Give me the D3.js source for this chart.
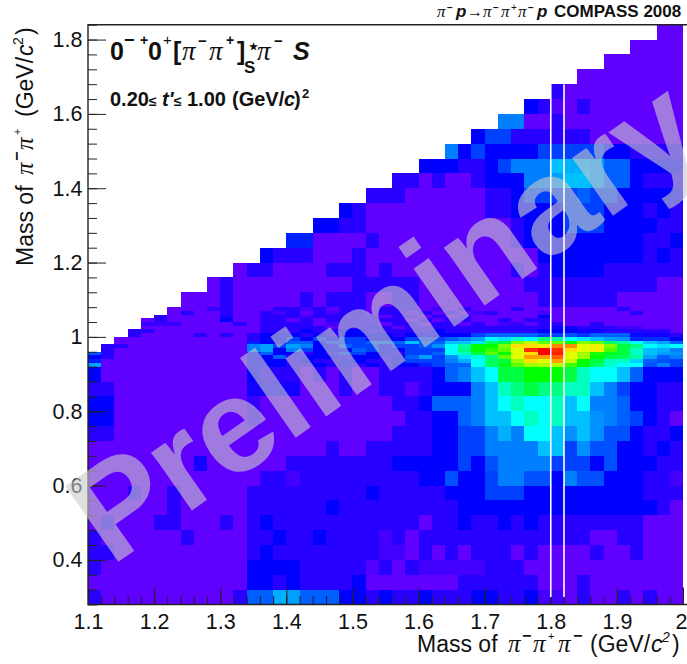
<!DOCTYPE html>
<html>
<head>
<meta charset="utf-8">
<script src="https://cdn.jsdelivr.net/npm/d3@7"></script>
<style>
  body { margin: 0; background: #fff; }
  svg { display: block; }
  text { font-family: "Liberation Sans", Arial, sans-serif; fill: #111; }
  .axis path { display: none; }
  .axis line { stroke: #222; stroke-width: 1; }
  .axis text { font-size: 21.5px; font-family: "Liberation Sans", Arial, sans-serif; fill: #111; }
</style>
</head>
<body>
<svg width="687" height="664"></svg>
<script>
// bin layout of the 2d histogram
const massX0 = 1.1, massXStep = 0.02, nCols = 45;
const lowEdge = 0.28, coarseStep = 0.04, fineStart = 0.92, fineStep = 0.01, highStart = 1.08;

// colour level per cell, rows run from low mass up; every row is right aligned
// 0.28 - 0.92 GeV, 0.04 wide
const lowRows = [
  [2,0,0,0,0,0,0,0,0,0,0,2,5,5,7.5,7,5,5,5,3,3,2,3,2,2,3,2,2,2,3,3,2,2,3,1,1,0,2,0,0,2,0,2,0,0],
  [0,0,0,0,0,0,0,0,0,0,0,0,3,3,2,3,2,2,2,2,3,0,0,0,0,0,0,0,2,2,2,2,2,2,0,0,0,2,0,0,0,0,0,0,0],
  [2,0,0,0,0,0,0,0,0,0,0,0,3,3,3,3,2,2,2,2,2,0.5,2,0,2,1,1,1,1,1,2,2,2,0,0,0,0,0,0,0,0,0,0,0,0],
  [2,2,0,0,0,0,0,0,0,0,0,0,2,3,2,2,2,2,2,2,2,2,1,1,0,2,0,2,0,2,2,2,0,2,0,0,0,0,2,0,0,2,0,0,0],
  [2,0,0,0,0,0,0,2,0,0,0,0,2,2,3,2,2,3,2,2,2,2,1,2,0,2,2,2,2,2,2,2,2,2,2,2,2,2,0,0,2,2,0,0,0],
  [0,2,0,0,0,2,2,0,0,0,2,0,2,3,2,2,2,2,2,2,2,2,2,2,2,0,2,2,3,2,2,3,2,3,2,2,2,2,2,2,2,2,0,0,0],
  [0,0,0,0,0,0,2,0,0,0,0,0,2,2,2,2,2,2,3,2,2,2,2,2,2,2,2,2,3,3,3,3,3,3,3,3,3,3,3,3,3,3,3,2,0],
  [0,0,0,2,0,0,2,0,0,0,0,0,2,2,2,2,2,2,2,2,2,3,2,2,2,2,2,3,3,3,4,4,4,3,3,3,3,3,3,3,3,3,2,2,2],
  [0,0,0,0,0,0,0,0,0,0,0,0,0,2,2,1,2,2,2,2,2,2,2,2,2,3,3,4.5,3,3,4,6,6,4.5,4.5,3,6,4.5,4.5,3,3,3,2,2,1],
  [0,0,0,0,0,0,0,0,2.5,0,0,0,0,0,0,2,2,2,2,2,2,2,2,3,3,3,3,3,4,3,4.5,6,6,6,6,4,4,4,3,4.5,3,3,3,2,2],
  [0,0,0,0,0,0,0,0,0,0,0,0,0,0,0,0,0,0,2,0,0,2,2,2,2,2,3,3,4,4,6,6,6,6,8,8,4,6.5,4.5,4.5,3,3,2,3,2],
  [2,2,0,0,0,0,0,0,0,0,0,0,0,0,0,0,0,0,0,0,0,0,0,2,2,2,3,3,4,4,6,7.5,6,9,9,8,6.5,8,6.5,4.5,4.5,3,2,2,3],
  [3,3,0,0,0,0,0,0,0,0,0,0,1.5,0,0,0,0,0,0,0,0,0,0,0,2,2,3,3,5,6,8,8,9,10,9,10,8,8,6.5,6,5,4,3,2,0],
  [3,3,0,0,0,0,0,0,0,0,0,0,1.5,0,0,0,0,0,0,0,0,0,0,2,2,3,5,5,5,6,8,9,10,9,9,10,8,9,6,6,5,3,3,2,2],
  [2,2,0,0,0,0,0,0,0,0,0,0,2.5,2.5,2.5,2.5,0,0,0,2,0,0,2,2,0.5,2,3,3,3,6,8,10,11,12,11,11,10,10,8,6,4,3,3,2,2],
  [3,0,0,0,0,0,0,0,0,0,0,0,3,2,2,2,0,2,0,2,0,0,2,2,2,2,3,5,6,8,9,12,12,13,13,13,12,10,9,9,8,5,3,3,3]
];
// 0.92 - 1.08 GeV, 0.01 wide
const fineRows = [
  [7,0,0,0,0,0,0,0,0,0,0,0,3,3,3,2,2,3,2,3,2,3,2,3,3,3.5,4,5,5,9,11.5,12.5,14,15,15.3,15.3,13.7,13,11.5,9.8,9,9,4.5,6,4],
  [3.5,0,0,0,0,0,0,0,0,0,0,0,3,3,3,2,3,2,2,3,3,2,2,3,4,4,4,6,7.5,9,11.5,12,14.8,17,16,18,15.5,13,12,10,10,8.3,5,4.5,4],
  [3,2,0,0,0,0,0,0,0,0,0,0,3,3,5,2,3,3,3,2,3,3,2,3,5,7,4,6.5,8.5,9.5,11,14,16,18,18,18.7,16,15,13,12,11.5,10.5,7,5,6],
  [4.5,2,0,0,0,0,0,0,0,0,0,0,3,5,3,3,2,3,2,4,4,3,3,2,4,4,5,9,10,12,14,13,16,17,20,19.5,16,15,13.3,12.5,12,10,8,7,6.5],
  [2,0,0,0,0,0,0,0,0,0,0,6,7,3,6,4,3,3,3,5,4,3,3,4,4,4,9,11,13,13.5,14,16,19.3,20,19.3,17,16,16.5,13.8,12,10,8,7.5,6],
  [2,2,0,0,0,0,0,0,0,0,0,6,7,4,7,6,3,3,5,4,4,3,4,4,5,6.5,9,10.5,13,13,14.5,17,17,16.5,18.3,18.2,16,16.5,14.5,12,11,9,8.5,9],
  [0,0,0,0,0,0,0,0,0,0,3.5,3,3,5,5,3,4,4,4,5,5,5,8,5,5,8,8,8.5,11.5,12,14.5,15.5,14,14,13,14.5,14,11.5,10.5,9,8,7,5],
  [0,0,0,0,0,0,0,0,0,0,2,3,3,4,3,4,3,4,4,3,3,3,4,4,4,5,6,7,9,8.6,9.8,9,11,10.5,9,8.6,8,7,6.5,3.5,3.7,3.7,3],
  [2,0,0,0,0,2,0,2,0,2,3,3,3,2,3,2,3,3,3,3,2,3,3,3,3,3,4,5,5,5,5,4,4,4.5,3.8,5,5,5,3.2,2.5,2.5,2],
  [2,2,0,0,0,0,0,0,0,0,2,2,2,3,2,2,3,3,2,2,2,2,2,3,2,2,2,2,2,2,2,3,3,3,2.6,2.6,2,2,2,2,2,0],
  [0,0,0,0,0,0,0,0,0,2,2,2,2,2,0,2,2,3,2,0,2,2,2,2,2,2,2,2,2,2,2,2.6,2.6,2,2,2,1,1,0,0,0],
  [1.5,1.5,1.5,0,0,0,0,2,0,2,2,2,2,0,1,2,2,2,0,2,2,0,2,2,0,2,0,1,1.5,0,2,2,0,0,2,0,0,0,0,0,0],
  [0,2,0,0,0,0,3,0,0,2,2,0,2,0,2,2,2,2,2,2,0,2,0,2,2,0,0,2,0,2,2,0,0,0,0,0,0,0,0,0,0],
  [2,0,0,0,0,2.3,0,0,2,2,2,1,2,2,2,2,2,0,2,2,0,2,0,2,0,0,0,0,0,3,0,0,0,0,0,0,0,0,0,0],
  [0,2,0,0,2,0,0,2,1,2,0,2,1,2,2,0,2,2,0,2,0,2,0,1,2,0,0,0,1,0,0,0,0,0,0,2,0,0,0],
  [0,0,0,1.5,2,0,0,0,2,2,1,2,0,2,2,0,2,2,2,0,1,0,2,0,0,0,2,0,0,0,0,0,0,0,2,0,0,0,0]
];
// 1.08 - 1.84 GeV, 0.04 wide
const highRows = [
  [0,0,0,2,0,0,0,0,0,2,0,2,2,2,0,0,2,2,0,0,0,0,0,0,0,0,0,2,2,2,2,2,2,0,0,0,0,0],
  [0,2,0,0,0,0,0,0,0,0,0,2,2,2,2,2,0,0,0,0,0,0,0,0,2,2,2,2,2,2,2,2,2,2,0,0],
  [0,2,2,0,0,0,0,2,2,2,0,2,0,0,0,0,0,0,0,0,0,2,0,2,3,3,3,3,2,2,2,2,2,2],
  [3,2,2,2,0,0,0,2,0,0,0,0,0,0,0,0,0,0,0,0,0,3,3,3,3,3,3,3,3,2,3,2],
  [3.5,3.5,0,0,0,0,2,0,0,0,0,0,0,0,0,0,0,2,3,3,3,3,3,3,3,3,3,2,2,3],
  [3,3,2,2,0,0,0,0,0,0,0,0,0,0,0,2,3,3,3,4,4,4,3,3,3,3,2,2],
  [3,2,0,0,0,0,0,0,0,0,0,2,2,3,3,3,3,4,4,4,3,3,3,2,3,2],
  [2,2,2,0,0,0,0,0,0,2,2,3,4,4,4,4,5,4,4,3,3,3,3,3],
  [2,2,0,2,0,0,2,3,3,3,6,6,7,8,8,7,5,5,3,2,2,2],
  [3,3,3,2,2,3,4,6,6,6,8,7.5,7.5,7,5,5,3,3,3,3],
  [6,3,4,3,3,3,3,4,4,4,4,4,3,3,2,2,2,2],
  [3,4,4,2,2,2,2,2,2,0,0,0,0,0,0,0],
  [6,6,0,0,2,0,0,0,0,0,0,0,0,0],
  [3,2,0.5,0,2,0,0,0,0,0,0,0],
  [2,0,0,0,0,0,0,0,0,0],
  [0,0,0,0,0,0,0,0],
  [0,0,0,0,0,0],
  [0,0,0,0],
  [0,0]
];

const xTicks = [1.1, 1.2, 1.3, 1.4, 1.5, 1.6, 1.7, 1.8, 1.9, 2];
const yTicks = [0.4, 0.6, 0.8, 1, 1.2, 1.4, 1.6, 1.8];
const markerMasses = [1.8, 1.82];   // the selected bin
const markerRange = [0.3, 1.68];

// rainbow palette as the colour level reads it
const levelStops = [0, 1, 2, 3, 4, 6, 8, 9, 10, 11, 12, 13, 14, 15, 16, 17, 18, 19, 20];
const levelColors = ["#6000ff", "#4400ff", "#2800ff", "#0000ff", "#0040ff", "#0080ff", "#00c0ff", "#00ffff", "#00ffc0",
  "#00ff80", "#00ff40", "#00ff00", "#60ff00", "#a0ff00", "#e0ff00", "#ffe000", "#ffa000", "#ff4000", "#ff0000"];
const color = d3.scaleLinear().domain(levelStops).range(levelColors);

const svg = d3.select("svg");
const x = d3.scaleLinear().domain([1.1, 2]).range([88, 683]);
const y = d3.scaleLinear().domain([0.28, 1.84]).range([604.5, 24.7]);

// flatten rows into cells
const cells = [];
function addRows(rows, start, step) {
  rows.forEach((row, r) => {
    const first = nCols - row.length;
    row.forEach((v, i) => {
      const col = first + i;
      cells.push({
        x0: massX0 + col * massXStep, x1: massX0 + (col + 1) * massXStep,
        y0: start + r * step, y1: start + (r + 1) * step, v
      });
    });
  });
}
addRows(lowRows, lowEdge, coarseStep);
addRows(fineRows, fineStart, fineStep);
addRows(highRows, highStart, coarseStep);

svg.append("g").selectAll("rect")
  .data(cells)
  .enter().append("rect")
  .attr("x", d => Math.round(x(d.x0)))
  .attr("y", d => Math.round(y(d.y1)))
  .attr("width", d => Math.round(x(d.x1)) - Math.round(x(d.x0)))
  .attr("height", d => Math.round(y(d.y0)) - Math.round(y(d.y1)))
  .attr("fill", d => color(d.v));

// axes, ticks point inwards
const bottom = y.range()[0], left = x.range()[0];
svg.append("g").attr("class", "axis").attr("transform", `translate(0,${bottom})`)
  .call(d3.axisBottom(x).tickValues(d3.range(0, 46).map(i => massX0 + i * massXStep)).tickSize(-8.5).tickFormat(""));
svg.append("g").attr("class", "axis").attr("transform", `translate(0,${bottom})`)
  .call(d3.axisBottom(x).tickValues(xTicks).tickSize(-17).tickPadding(27).tickFormat(d => d))
  .selectAll("text").attr("dy", "-0.1em").attr("dx", d => d === 2 ? -2 : 0);
svg.append("g").attr("class", "axis").attr("transform", `translate(${left},0)`)
  .call(d3.axisLeft(y).tickValues(d3.range(0, 40).map(i => lowEdge + i * coarseStep)).tickSize(-9).tickFormat(""));
svg.append("g").attr("class", "axis").attr("transform", `translate(${left},0)`)
  .call(d3.axisLeft(y).tickValues(yTicks).tickSize(-18).tickPadding(5.5).tickFormat(d => d));

// frame, open on the right like the picture
const frame = [[687, y.range()[1]], [left, y.range()[1]], [left, bottom], [687, bottom]];
svg.append("path")
  .attr("d", d3.line()(frame))
  .attr("fill", "none").attr("stroke", "#222").attr("stroke-width", 1.4);

// text with mixed fonts, parts may be raised or set at a fixed offset
const serif = '"Liberation Serif", "Times New Roman", serif';
function richText(px, py, size, weight, parts, rotate) {
  const t = svg.append("text")
    .attr("font-size", size)
    .attr("font-weight", weight)
    .attr("transform", `translate(${px},${py})` + (rotate ? ` rotate(${rotate})` : ""));
  let shift = 0;
  parts.forEach(p => {
    const rise = p.rise || 0;
    const s = t.append("tspan").text(p.t)
      .attr("dy", shift - rise)
      .attr("font-size", p.size || size);
    if (p.at !== undefined) s.attr("x", p.at);
    if (p.serif) s.style("font-family", serif).attr("font-weight", "normal");
    if (p.italic) s.attr("font-style", "italic");
    if (p.weight) s.attr("font-weight", p.weight);
    shift = rise;
  });
  return t;
}
const pi = (at, size) => ({ t: "\u03c0", serif: true, italic: true, size, at });

// reaction line
richText(0, 17, 17, "bold", [
  pi(437, 17), { t: "\u2212", rise: 6, size: 10, at: 447 }, { t: "p", italic: true, at: 456 },
  { t: "\u2192", serif: true, size: 16, weight: "normal", at: 467 },
  pi(483, 17), { t: "\u2212", rise: 6, size: 10, at: 493 }, pi(501, 17), { t: "+", rise: 6, size: 10, weight: "normal", at: 511 },
  pi(518, 17), { t: "\u2212", rise: 6, size: 10, at: 528 }, { t: "p", italic: true, at: 537 }, { t: "COMPASS 2008", at: 554 }
]);

// axis titles
richText(0, 652, 23, "normal", [
  { t: "Mass of", at: 417 }, pi(508, 25), { t: "\u2212", rise: 11, size: 16, weight: "bold", at: 522 }, pi(533, 25),
  { t: "+", rise: 12, size: 11, at: 548 }, pi(558, 25), { t: "\u2212", rise: 11, size: 16, weight: "bold", at: 573 },
  { t: "(GeV/", at: 590 }, { t: "c", italic: true, at: 651 }, { t: "2", rise: 10, size: 14, italic: true, at: 662 }, { t: ")", at: 672 }
]);
richText(33, 266, 23, "normal", [
  { t: "Mass of", at: 0 }, pi(91, 25), { t: "\u2212", rise: 11, size: 16, weight: "bold", at: 105 }, pi(116, 25),
  { t: "+", rise: 12, size: 11, at: 131 }, { t: "(GeV/", at: 149 }, { t: "c", italic: true, at: 210 },
  { t: "2", rise: 10, size: 14, at: 221 }, { t: ")", at: 231 }
], -90);

// channel label
richText(0, 60, 25, "bold", [
  { t: "0", at: 110 }, { t: "\u2212", rise: 14, size: 18, at: 124 }, { t: "+", rise: 15, size: 14, at: 140 }, { t: "0", at: 148 },
  { t: "+", rise: 15, size: 15, weight: "normal", at: 163 }, { t: "[", at: 173 },
  pi(182, 27), { t: "\u2212", rise: 14, size: 15, at: 198 }, pi(209, 27), { t: "+", rise: 15, size: 14, at: 226 }, { t: "]", at: 237 },
  { t: "\u2605", rise: 10, size: 10, at: 249 }, { t: "S", rise: -13, size: 17, at: 244 },
  pi(257, 27), { t: "\u2212", rise: 14, size: 15, at: 274 }, { t: "S", italic: true, at: 293 }
]);

richText(0, 106, 20, "bold", [
  { t: "0.20", at: 110 }, { t: "\u2264", size: 14, at: 149 }, { t: "t'", italic: true, at: 162 }, { t: "\u2264", size: 14, at: 174 },
  { t: "1.00", at: 187 }, { t: "(GeV/", at: 232 }, { t: "c", italic: true, at: 284 }, { t: ")", at: 294 }, { t: "2", rise: 8, size: 13, at: 302 }
]);

// watermark sits over everything except the bin markers
svg.append("text")
  .attr("transform", "translate(111,567) rotate(-35)")
  .attr("font-size", 134)
  .attr("font-weight", "bold")
  .style("fill", "#cbcbcb")
  .attr("opacity", 0.6)
  .text("Preliminary");

svg.append("g").selectAll("line")
  .data(markerMasses)
  .enter().append("line")
  .attr("x1", d => x(d)).attr("x2", d => x(d))
  .attr("y1", y(markerRange[0])).attr("y2", y(markerRange[1]))
  .attr("stroke", "#fff").attr("stroke-width", 1.6);
</script>
</body>
</html>
